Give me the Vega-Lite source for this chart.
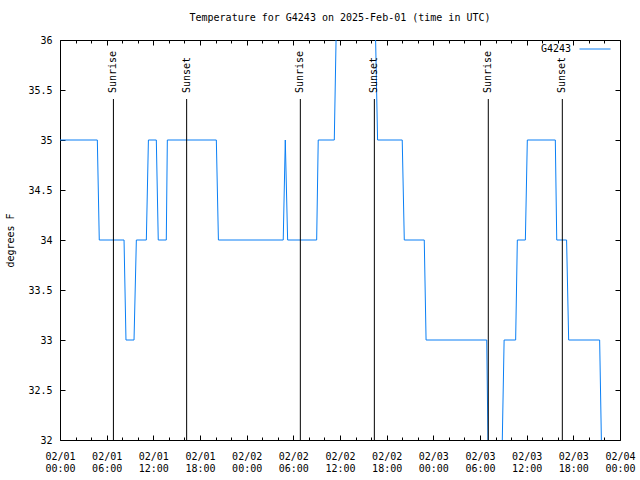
{
  "$schema": "https://vega.github.io/schema/vega-lite/v6.json",
  "width": 560,
  "height": 400,
  "autosize": {"type": "none"},
  "padding": {"left": 60, "top": 40, "right": 20, "bottom": 40},
  "background": "white",
  "title": {"text": "Temperature for G4243 on 2025-Feb-01 (time in UTC)", "font": "DejaVu Sans Mono", "fontSize": 10, "fontWeight": "normal", "color": "black", "anchor": "middle", "offset": 10},
  "config": {
    "view": {"stroke": "black", "strokeWidth": 1},
    "axis": {"domain": false, "grid": false, "labelFont": "DejaVu Sans Mono", "labelFontSize": 10, "labelColor": "black", "tickColor": "black", "titleFont": "DejaVu Sans Mono", "titleFontSize": 10, "titleFontWeight": "normal", "titleColor": "black"}
  },
  "datasets": {
    "temps": [
      {"t": "2025-02-01T00:00:00Z", "temp": 35, "station": "G4243"},
      {"t": "2025-02-01T04:48:00Z", "temp": 35, "station": "G4243"},
      {"t": "2025-02-01T05:03:00Z", "temp": 34, "station": "G4243"},
      {"t": "2025-02-01T08:14:00Z", "temp": 34, "station": "G4243"},
      {"t": "2025-02-01T08:29:00Z", "temp": 33, "station": "G4243"},
      {"t": "2025-02-01T09:31:00Z", "temp": 33, "station": "G4243"},
      {"t": "2025-02-01T09:49:00Z", "temp": 34, "station": "G4243"},
      {"t": "2025-02-01T11:06:00Z", "temp": 34, "station": "G4243"},
      {"t": "2025-02-01T11:22:00Z", "temp": 35, "station": "G4243"},
      {"t": "2025-02-01T12:23:00Z", "temp": 35, "station": "G4243"},
      {"t": "2025-02-01T12:38:00Z", "temp": 34, "station": "G4243"},
      {"t": "2025-02-01T13:40:00Z", "temp": 34, "station": "G4243"},
      {"t": "2025-02-01T13:48:00Z", "temp": 35, "station": "G4243"},
      {"t": "2025-02-01T20:06:00Z", "temp": 35, "station": "G4243"},
      {"t": "2025-02-01T20:22:00Z", "temp": 34, "station": "G4243"},
      {"t": "2025-02-02T04:42:00Z", "temp": 34, "station": "G4243"},
      {"t": "2025-02-02T04:58:00Z", "temp": 35, "station": "G4243"},
      {"t": "2025-02-02T05:16:00Z", "temp": 34, "station": "G4243"},
      {"t": "2025-02-02T09:00:00Z", "temp": 34, "station": "G4243"},
      {"t": "2025-02-02T09:12:00Z", "temp": 35, "station": "G4243"},
      {"t": "2025-02-02T11:16:00Z", "temp": 35, "station": "G4243"},
      {"t": "2025-02-02T11:33:00Z", "temp": 36.25, "station": "G4243"},
      {"t": "2025-02-02T16:31:00Z", "temp": 36.25, "station": "G4243"},
      {"t": "2025-02-02T16:50:00Z", "temp": 35, "station": "G4243"},
      {"t": "2025-02-02T20:00:00Z", "temp": 35, "station": "G4243"},
      {"t": "2025-02-02T20:16:00Z", "temp": 34, "station": "G4243"},
      {"t": "2025-02-02T22:50:00Z", "temp": 34, "station": "G4243"},
      {"t": "2025-02-02T23:04:00Z", "temp": 33, "station": "G4243"},
      {"t": "2025-02-03T06:52:00Z", "temp": 33, "station": "G4243"},
      {"t": "2025-02-03T07:06:00Z", "temp": 31.5, "station": "G4243"},
      {"t": "2025-02-03T08:45:00Z", "temp": 31.5, "station": "G4243"},
      {"t": "2025-02-03T09:06:00Z", "temp": 33, "station": "G4243"},
      {"t": "2025-02-03T10:35:00Z", "temp": 33, "station": "G4243"},
      {"t": "2025-02-03T10:48:00Z", "temp": 34, "station": "G4243"},
      {"t": "2025-02-03T11:50:00Z", "temp": 34, "station": "G4243"},
      {"t": "2025-02-03T12:05:00Z", "temp": 35, "station": "G4243"},
      {"t": "2025-02-03T15:41:00Z", "temp": 35, "station": "G4243"},
      {"t": "2025-02-03T15:52:00Z", "temp": 34, "station": "G4243"},
      {"t": "2025-02-03T17:08:00Z", "temp": 34, "station": "G4243"},
      {"t": "2025-02-03T17:24:00Z", "temp": 33, "station": "G4243"},
      {"t": "2025-02-03T21:23:00Z", "temp": 33, "station": "G4243"},
      {"t": "2025-02-03T21:43:00Z", "temp": 31.5, "station": "G4243"}
    ],
    "events": [
      {"t": "2025-02-01T06:52:00Z", "event": "Sunrise"},
      {"t": "2025-02-01T16:17:00Z", "event": "Sunset"},
      {"t": "2025-02-02T06:54:00Z", "event": "Sunrise"},
      {"t": "2025-02-02T16:25:00Z", "event": "Sunset"},
      {"t": "2025-02-03T07:04:00Z", "event": "Sunrise"},
      {"t": "2025-02-03T16:35:00Z", "event": "Sunset"}
    ]
  },
  "layer": [
    {
      "data": {"name": "temps"},
      "mark": {"type": "line", "clip": true, "strokeWidth": 1, "interpolate": "linear"},
      "encoding": {
        "x": {
          "field": "t", "type": "temporal",
          "scale": {"type": "utc", "domain": [{"year": 2025, "month": 2, "date": 1, "utc": true}, {"year": 2025, "month": 2, "date": 4, "utc": true}]},
          "axis": {
            "orient": "bottom", "title": null,
            "values": [1738368000000, 1738375200000, 1738382400000, 1738389600000, 1738396800000, 1738404000000, 1738411200000, 1738418400000, 1738425600000, 1738432800000, 1738440000000, 1738447200000, 1738454400000, 1738461600000, 1738468800000, 1738476000000, 1738483200000, 1738490400000, 1738497600000, 1738504800000, 1738512000000, 1738519200000, 1738526400000, 1738533600000, 1738540800000, 1738548000000, 1738555200000, 1738562400000, 1738569600000, 1738576800000, 1738584000000, 1738591200000, 1738598400000, 1738605600000, 1738612800000, 1738620000000, 1738627200000],
            "tickSize": {"condition": {"test": "utchours(datum.value) % 6 === 0", "value": -5}, "value": -3},
            "labelExpr": "utchours(datum.value) % 6 === 0 ? [utcFormat(datum.value, '%m/%d'), utcFormat(datum.value, '%H:%M')] : ''",
            "labelPadding": 16, "labelBaseline": "top", "labelLineHeight": 12,
            "labelFlush": false, "labelOverlap": false, "labelBound": false
          }
        },
        "y": {
          "field": "temp", "type": "quantitative",
          "scale": {"domain": [32, 36], "nice": false, "zero": false},
          "axis": {"orient": "left", "title": "degrees F", "values": [32, 32.5, 33, 33.5, 34, 34.5, 35, 35.5, 36], "format": "~g", "tickSize": -5, "labelPadding": 13, "titlePadding": 12, "labelFlush": false, "labelOverlap": false, "labelBound": false}
        },
        "color": {
          "field": "station", "type": "nominal",
          "scale": {"domain": ["G4243"], "range": ["#0a7ff5"]},
          "legend": {"title": null, "orient": "none", "legendX": 479, "legendY": -7, "symbolType": "stroke", "symbolSize": 961, "symbolStrokeWidth": 1, "symbolOffset": 40, "labelAlign": "right", "labelOffset": -40, "labelFont": "DejaVu Sans Mono", "labelFontSize": 10, "labelColor": "black", "padding": 0}
        }
      }
    },
    {
      "data": {"name": "events"},
      "mark": {"type": "rule", "color": "black", "strokeWidth": 1},
      "encoding": {
        "x": {
          "field": "t", "type": "temporal",
          "axis": {
            "orient": "top", "title": null, "labels": false,
            "values": [1738368000000, 1738375200000, 1738382400000, 1738389600000, 1738396800000, 1738404000000, 1738411200000, 1738418400000, 1738425600000, 1738432800000, 1738440000000, 1738447200000, 1738454400000, 1738461600000, 1738468800000, 1738476000000, 1738483200000, 1738490400000, 1738497600000, 1738504800000, 1738512000000, 1738519200000, 1738526400000, 1738533600000, 1738540800000, 1738548000000, 1738555200000, 1738562400000, 1738569600000, 1738576800000, 1738584000000, 1738591200000, 1738598400000, 1738605600000, 1738612800000, 1738620000000, 1738627200000],
            "tickSize": {"condition": {"test": "utchours(datum.value) % 6 === 0", "value": -5}, "value": -3}
          }
        },
        "y": {"datum": 35.41, "type": "quantitative", "axis": {"orient": "right", "title": null, "labels": false, "values": [32, 32.5, 33, 33.5, 34, 34.5, 35, 35.5, 36], "tickSize": -5}},
        "y2": {"datum": 32}
      }
    },
    {
      "data": {"name": "events"},
      "mark": {"type": "text", "angle": 270, "align": "left", "baseline": "middle", "font": "DejaVu Sans Mono", "fontSize": 10, "color": "black"},
      "encoding": {
        "x": {"field": "t", "type": "temporal", "axis": null},
        "y": {"datum": 35.47, "type": "quantitative", "axis": null},
        "text": {"field": "event"}
      }
    }
  ],
  "resolve": {"axis": {"x": "independent", "y": "independent"}}
}
